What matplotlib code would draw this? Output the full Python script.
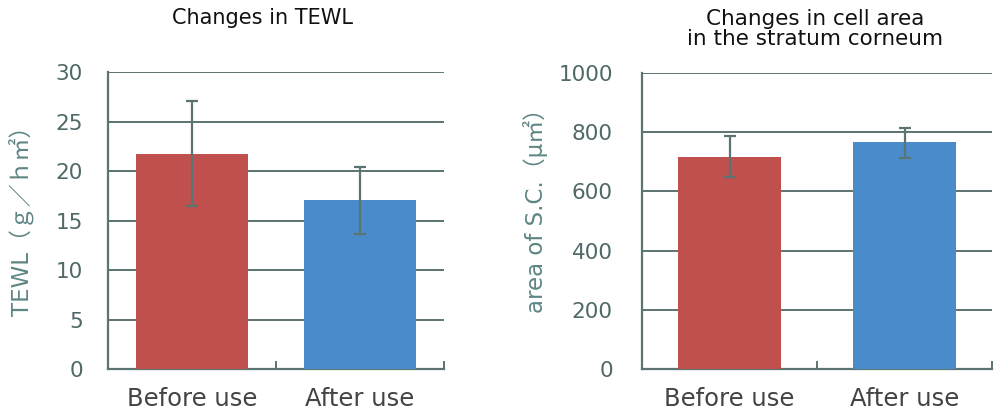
import numpy as np
import matplotlib.pyplot as plt

plt.rcParams['font.family'] = ['DejaVu Sans', 'Noto Sans CJK JP']

# data
categories = ['Before use', 'After use']
tewl_mean = [21.7, 17.1]
tewl_low = [16.45, 13.6]
tewl_high = [27.05, 20.4]
area_mean = [718, 766]
area_low = [650, 713]
area_high = [787, 814]

bar_colors = ['#C0504D', '#4A8BC9']
line_col = '#5B7371'
tick_col = '#4F6868'
label_col = '#5E8585'

fig = plt.figure(figsize=(10, 4.15), dpi=100)
ax1 = fig.add_axes([0.108, 0.1108, 0.336, 0.7157])
ax2 = fig.add_axes([0.642, 0.1116, 0.350, 0.7118])


def draw(ax, mean, low, high, width, ymax, step, ylabel, tpad, lab_xy):
    x = np.arange(len(categories))
    mean = np.array(mean)
    err = [mean - np.array(low), np.array(high) - mean]
    ax.bar(x, mean, width=width, color=bar_colors, zorder=3)
    ax.errorbar(x, mean, yerr=err, fmt='none', ecolor=line_col,
                elinewidth=1.6, capsize=4.5, capthick=1.6, zorder=4)
    ax.set_xlim(-0.5, len(categories) - 0.5)
    ax.set_ylim(0, ymax)
    ax.set_yticks(np.arange(0, ymax + 1, step))
    ax.yaxis.grid(True, color=line_col, lw=1.4, zorder=0)
    ax.set_axisbelow(True)
    for s in ['top', 'right']:
        ax.spines[s].set_visible(False)
    for s in ['left', 'bottom']:
        ax.spines[s].set_color(line_col)
        ax.spines[s].set_linewidth(1.6)
    ax.set_xticks(x)
    ax.set_xticklabels(categories, fontsize=17.5, color='#444444')
    ax.tick_params(axis='x', length=0, pad=13)
    ax.set_xticks(np.arange(len(categories)) + 0.5, minor=True)
    ax.tick_params(axis='x', which='minor', direction='in', length=6,
                   width=1.4, color=line_col)
    ax.tick_params(axis='y', length=0, pad=tpad, labelsize=15.5,
                   labelcolor=tick_col)
    ax.set_ylabel(ylabel, fontsize=16.5, color=label_col)
    ax.yaxis.set_label_coords(*lab_xy)


draw(ax1, tewl_mean, tewl_low, tewl_high, 0.67, 30, 5, 'TEWL（ｇ／ｈ㎡）',
     18, (-0.22, 0.518))
draw(ax2, area_mean, area_low, area_high, 0.59, 1000, 200, 'area of S.C.（μ㎡）',
     21, (-0.269, 0.554))

fig.text(0.262, 0.957, 'Changes in TEWL', ha='center', va='center',
         fontsize=15, color='#111111')
fig.text(0.815, 0.93, 'Changes in cell area\nin the stratum corneum',
         ha='center', va='center', fontsize=15.5, color='#111111',
         linespacing=1.05)

fig.savefig('out.png', dpi=100)
